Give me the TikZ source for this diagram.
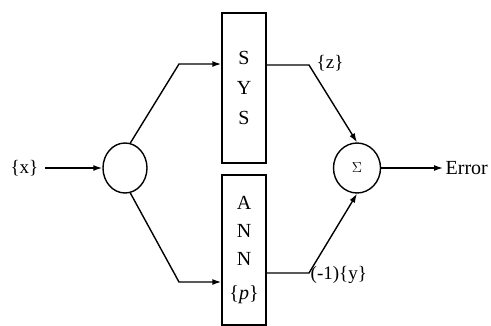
\documentclass[tikz,border=0pt]{standalone}
\usepackage{fontspec}
\setmainfont{Liberation Serif}
\usetikzlibrary{arrows.meta,shapes.geometric}
\begin{document}
\begin{tikzpicture}[x=1pt,y=-1pt,
  line width=1.4pt,
  arr/.style={-{Latex[length=9pt,width=6pt]}},
  blob/.style={draw,ellipse,inner sep=0pt},
  sysbox/.style={draw,rectangle,minimum width=44pt,inner sep=0pt,align=center},
  lbl/.style={inner sep=0pt,font=\fontsize{19}{22}\selectfont}
]
\useasboundingbox (0,0) rectangle (491,325);
\node[blob,minimum width=44pt,minimum height=50pt] (split) at (125,168) {};
\node[blob,minimum width=47pt,minimum height=50pt,font=\fontsize{14}{16}\selectfont] (sum) at (357,168) {$\Sigma$};
\node[sysbox,minimum height=150pt,font=\fontsize{20}{30}\selectfont] (sys) at (244,88) {S\\Y\\S};
\node[sysbox,minimum height=150pt,font=\fontsize{20}{28}\selectfont] (ann) at (244,250) {A\\N\\N\\[6pt]\{\textit{p}\}};
\node[lbl,anchor=east] (x) at (39,168) {\{x\}};
\node[lbl,anchor=west] (z) at (316,63) {\{z\}};
\node[lbl,anchor=west] (y) at (310,275) {(-1)\{y\}};
\node[lbl,anchor=west,font=\fontsize{20}{22}\selectfont] (err) at (445,168) {Error};
\coordinate (a1) at (179,64);
\coordinate (a2) at (179,282);
\coordinate (b1) at (309,65);
\coordinate (b2) at (309,273);
\draw[arr] ([xshift=6pt]x.east) -- (split.west);
\draw[arr] (split.78) -- (a1) -- (a1 -| sys.west);
\draw[arr] (split.-78) -- (a2) -- (a2 -| ann.west);
\draw[arr] (b1 -| sys.east) -- (b1) -- (sum.north);
\draw[arr] (b2 -| ann.east) -- (b2) -- (sum.south);
\draw[arr] (sum.east) -- ([xshift=-2pt]err.west);
\end{tikzpicture}
\end{document}
